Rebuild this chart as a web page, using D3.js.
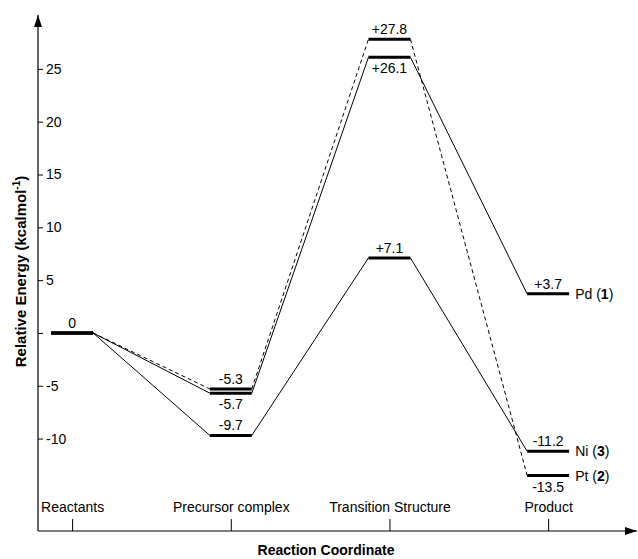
<!DOCTYPE html>
<html>
<head>
<meta charset="utf-8">
<script src="https://cdn.jsdelivr.net/npm/d3@7"></script>
<style>
  body { margin: 0; background: #fff; }
  svg { font-family: "Liberation Sans", Arial, sans-serif; }
</style>
</head>
<body>
<div id="chart"></div>
<script>
// reaction stages along the x axis
const stages = ["Reactants", "Precursor complex", "Transition Structure", "Product"];

// relative energies (kcal/mol) per metal
const pdEnergy = [0, -5.7, 26.1, 3.7];
const ptEnergy = [0, -5.3, 27.8, -13.5];
const niEnergy = [0, -9.7, 7.1, -11.2];

const yTicks = [-10, -5, 0, 5, 10, 15, 20, 25];

const series = [
  { name: "Pd", num: "1", values: pdEnergy, dashed: false, labelSide: ["above", "below", "below", "above"] },
  { name: "Pt", num: "2", values: ptEnergy, dashed: true, labelSide: ["none", "above", "above", "below"] },
  { name: "Ni", num: "3", values: niEnergy, dashed: false, labelSide: ["none", "above", "above", "above"] },
];

const W = 638, H = 559;
const half = 21; // half width of an energy level bar
const fontSize = "14px";

const svg = d3.select("#chart").append("svg")
  .attr("width", W)
  .attr("height", H);

const x = d3.scaleLinear().domain([-0.215, 3.56]).range([38, 637]);
const y = d3.scaleLinear().domain([-18.75, 30.1]).range([531, 15]);

svg.append("defs").append("marker")
  .attr("id", "arrow")
  .attr("viewBox", "0 0 12 8")
  .attr("refX", 12)
  .attr("refY", 4)
  .attr("markerWidth", 12)
  .attr("markerHeight", 8)
  .attr("markerUnits", "userSpaceOnUse")
  .attr("orient", "auto")
  .append("path")
  .attr("d", "M0,0L12,4L0,8Z")
  .attr("fill", "#000");

// y axis (ticks on the right side of the line)
const yAxis = svg.append("g")
  .attr("transform", `translate(${x.range()[0]},0)`)
  .call(d3.axisRight(y).tickValues(yTicks).tickSize(5).tickSizeOuter(0).tickPadding(3)
    .tickFormat(d => d === 0 ? "" : String(d)));
yAxis.select(".domain").remove();
yAxis.selectAll("text").style("font-size", fontSize).attr("font-family", null);
yAxis.selectAll("line").attr("stroke", "#000");

// x axis (ticks upward, labels above)
const xAxis = svg.append("g")
  .attr("transform", `translate(0,${y.range()[0]})`)
  .call(d3.axisTop(x).tickValues(d3.range(stages.length)).tickSize(12).tickSizeOuter(0).tickPadding(7)
    .tickFormat(i => stages[i]));
xAxis.select(".domain").remove();
xAxis.selectAll("text").style("font-size", fontSize).attr("font-family", null);
xAxis.selectAll("line").attr("stroke", "#000");

// axis lines with arrows
svg.append("line")
  .attr("x1", x.range()[0]).attr("y1", y.range()[0])
  .attr("x2", x.range()[0]).attr("y2", y.range()[1])
  .attr("stroke", "#000").attr("stroke-width", 1.2)
  .attr("marker-end", "url(#arrow)");
svg.append("line")
  .attr("x1", x.range()[0]).attr("y1", y.range()[0])
  .attr("x2", x.range()[1]).attr("y2", y.range()[0])
  .attr("stroke", "#000").attr("stroke-width", 1.2)
  .attr("marker-end", "url(#arrow)");

// axis titles
svg.append("text")
  .attr("transform", `translate(26,${(y(30) + y(-18.75)) / 2 - 2}) rotate(-90)`)
  .attr("text-anchor", "middle")
  .style("font-size", "15px")
  .style("font-weight", "bold")
  .text("Relative Energy (kcalmol")
  .append("tspan").attr("dy", -6).style("font-size", "10px").text("-1")
  .select(function () { return this.parentNode; })
  .append("tspan").attr("dy", 6).text(")");

svg.append("text")
  .attr("x", 326)
  .attr("y", 555)
  .attr("text-anchor", "middle")
  .style("font-size", fontSize)
  .style("font-weight", "bold")
  .text("Reaction Coordinate");

// connectors between levels
const connector = d3.line().x(d => d[0]).y(d => d[1]);
series.forEach(s => {
  for (let i = 0; i < s.values.length - 1; i++) {
    svg.append("path")
      .attr("d", connector([[x(i) + half, y(s.values[i])], [x(i + 1) - half, y(s.values[i + 1])]]))
      .attr("fill", "none")
      .attr("stroke", "#000")
      .attr("stroke-width", 1)
      .attr("stroke-dasharray", s.dashed ? "4,3" : null);
  }
});

// energy level bars and value labels
const fmt = v => v === 0 ? "0" : (v > 0 ? "+" + v.toFixed(1) : v.toFixed(1));
series.forEach(s => {
  s.values.forEach((v, i) => {
    svg.append("line")
      .attr("x1", x(i) - half).attr("x2", x(i) + half)
      .attr("y1", y(v)).attr("y2", y(v))
      .attr("stroke", "#000")
      .attr("stroke-width", 3);
    const side = s.labelSide[i];
    if (side === "none") return;
    svg.append("text")
      .attr("x", x(i))
      .attr("y", y(v) + (side === "above" ? -5 : 16))
      .attr("text-anchor", "middle")
      .style("font-size", fontSize)
      .text(fmt(v));
  });
  // series name next to product level
  const last = s.values.length - 1;
  const t = svg.append("text")
    .attr("x", x(last) + half + 6)
    .attr("y", y(s.values[last]) + 5)
    .style("font-size", fontSize)
    .text(s.name + " (");
  t.append("tspan").style("font-weight", "bold").text(s.num);
  t.append("tspan").text(")");
});
</script>
</body>
</html>
